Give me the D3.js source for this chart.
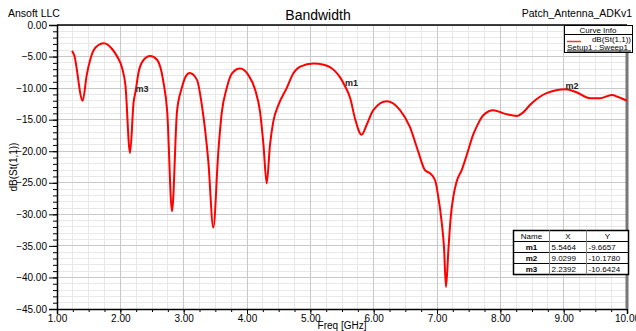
<!DOCTYPE html>
<html>
<head>
<meta charset="utf-8">
<script src="https://cdn.jsdelivr.net/npm/d3@7"></script>
<style>
  body { margin: 0; background: #fff; }
  svg { font-family: "Liberation Sans", Arial, sans-serif; }
</style>
</head>
<body>
<svg id="chart" width="636" height="331"></svg>
<script>
var freq = [1.237, 1.27, 1.405, 1.47, 1.53, 1.605, 1.74, 1.87, 1.95, 2.03, 2.08, 2.153, 2.21, 2.239,
  2.29, 2.37, 2.47, 2.58, 2.68, 2.74, 2.816, 2.895, 2.97, 3.03, 3.095, 3.21, 3.29, 3.39, 3.468,
  3.547, 3.60, 3.68, 3.76, 3.89, 4.02, 4.13, 4.205, 4.26, 4.311, 4.363, 4.415, 4.495, 4.627,
  4.73, 4.84, 5.05, 5.21, 5.39, 5.47, 5.546, 5.63, 5.705, 5.81, 5.89, 5.995, 6.206, 6.416, 6.57,
  6.705, 6.81, 6.89, 6.97, 7.02, 7.07, 7.11, 7.142, 7.18, 7.217, 7.258, 7.31, 7.39, 7.47, 7.57,
  7.627, 7.73, 7.89, 8.05, 8.26, 8.34, 8.495, 8.73, 9.03, 9.21, 9.42, 9.57, 9.76, 9.86, 10.0];
var s11 = [-4.1, -4.75, -12.0, -7.9, -5.3, -3.6, -2.9, -3.8, -5.0, -6.9, -9.5, -20.3, -12.2, -10.6,
  -7.4, -5.5, -4.9, -5.5, -9.0, -13.7, -29.5, -13.7, -10.0, -8.2, -7.6, -8.7, -12.9, -21.7, -32.1,
  -20.1, -14.0, -10.0, -7.7, -6.9, -7.9, -10.3, -13.7, -19.0, -25.1, -19.0, -15.3, -12.7, -10.0,
  -7.7, -6.6, -6.1, -6.3, -7.3, -8.3, -9.67, -11.6, -14.8, -17.4, -15.8, -13.5, -12.1, -13.5, -16.1,
  -20.1, -23.0, -23.5, -24.6, -27.2, -30.9, -35.1, -41.5, -35.6, -30.4, -27.2, -24.8, -23.0, -20.6, -17.4,
  -16.1, -14.3, -13.5, -14.0, -14.4, -14.0, -12.4, -10.8, -10.18, -10.7, -11.6, -11.6, -11.1, -11.4, -12.0];

var markerNames = ['m1', 'm2', 'm3'];
var markerX = [5.5464, 9.0299, 2.2392];
var markerY = [-9.6657, -10.1780, -10.6424];

var xTicks = [1, 2, 3, 4, 5, 6, 7, 8, 9, 10];
var yTicks = [0, -5, -10, -15, -20, -25, -30, -35, -40, -45];

var svg = d3.select('#chart');
var pLeft = 57, pRight = 627, pTop = 25, pBottom = 309;

var x = d3.scaleLinear().domain([1, 10]).range([pLeft, pRight]);
var y = d3.scaleLinear().domain([-45, 0]).range([pBottom, pTop]);

// grid
var grid = svg.append('g').attr('shape-rendering', 'crispEdges');
grid.selectAll('.vminor')
  .data(d3.range(1, 10.001, 0.25))
  .enter().append('line')
  .attr('x1', d => x(d)).attr('x2', d => x(d))
  .attr('y1', pTop).attr('y2', pBottom)
  .attr('stroke', '#e8e8e8').attr('stroke-width', 1);
grid.selectAll('.hminor')
  .data(d3.range(-45, 0.001, 1))
  .enter().append('line')
  .attr('x1', pLeft).attr('x2', pRight)
  .attr('y1', d => y(d)).attr('y2', d => y(d))
  .attr('stroke', '#e8e8e8').attr('stroke-width', 1);
grid.selectAll('.vmajor')
  .data(xTicks)
  .enter().append('line')
  .attr('x1', d => x(d)).attr('x2', d => x(d))
  .attr('y1', pTop).attr('y2', pBottom)
  .attr('stroke', '#c8c8c8').attr('stroke-width', 1);
grid.selectAll('.hmajor')
  .data(yTicks)
  .enter().append('line')
  .attr('x1', pLeft).attr('x2', pRight)
  .attr('y1', d => y(d)).attr('y2', d => y(d))
  .attr('stroke', '#c8c8c8').attr('stroke-width', 1);

// axes
var xAxis = d3.axisBottom(x).tickValues(xTicks).tickFormat(d3.format('.2f')).tickSize(5);
var xMinor = d3.axisBottom(x).tickValues(d3.range(1, 10.001, 0.25)).tickFormat('').tickSize(3);
var yAxis = d3.axisLeft(y).tickValues(yTicks).tickFormat(d3.format('.2f')).tickSize(8);
var yMinor = d3.axisLeft(y).tickValues(d3.range(-45, 0.001, 1)).tickFormat('').tickSize(4);

svg.append('g').attr('transform', 'translate(0,' + pBottom + ')').call(xMinor)
  .call(g => g.select('.domain').remove());
var gx = svg.append('g').attr('transform', 'translate(0,' + pBottom + ')').call(xAxis);
gx.selectAll('text').attr('font-size', 10).attr('fill', '#000').attr('y', 6);
gx.select('.domain').attr('stroke-width', 1.5);

svg.append('g').attr('transform', 'translate(' + pLeft + ',0)').call(yMinor)
  .call(g => g.select('.domain').remove());
var gy = svg.append('g').attr('transform', 'translate(' + pLeft + ',0)').call(yAxis);
gy.selectAll('text').attr('font-size', 10).attr('fill', '#000').attr('x', -10);
gy.select('.domain').attr('stroke-width', 1.5);
svg.selectAll('.tick line').attr('stroke', '#000');

// top and right frame
svg.append('line').attr('x1', pLeft).attr('x2', pRight).attr('y1', pTop).attr('y2', pTop)
  .attr('stroke', '#000').attr('stroke-width', 1.5);
svg.append('line').attr('x1', pRight).attr('x2', pRight).attr('y1', pTop).attr('y2', pBottom)
  .attr('stroke', '#777').attr('stroke-width', 3);

// curve
var pts = freq.map((f, i) => [f, s11[i]]);
var line = d3.line().x(d => x(d[0])).y(d => y(d[1])).curve(d3.curveMonotoneX);
svg.append('path').datum(pts)
  .attr('d', line)
  .attr('fill', 'none')
  .attr('stroke', '#ff0000')
  .attr('stroke-width', 2);

// marker labels
svg.selectAll('.mlabel')
  .data(markerNames)
  .enter().append('text')
  .attr('x', (d, i) => x(markerX[i]))
  .attr('y', (d, i) => y(markerY[i]))
  .attr('font-size', 9).attr('font-weight', 'bold').attr('fill', '#222')
  .text(d => d);

// titles
svg.append('text').attr('x', 318).attr('y', 20).attr('text-anchor', 'middle')
  .attr('font-size', 14).text('Bandwidth');
svg.append('text').attr('x', 8).attr('y', 17).attr('font-size', 10.5).text('Ansoft LLC');
svg.append('text').attr('x', 632).attr('y', 17).attr('text-anchor', 'end')
  .attr('font-size', 10.5).text('Patch_Antenna_ADKv1');
svg.append('text').attr('x', 342).attr('y', 329).attr('text-anchor', 'middle')
  .attr('font-size', 10).text('Freq [GHz]');
svg.append('text').attr('transform', 'translate(17,167) rotate(-90)').attr('text-anchor', 'middle')
  .attr('font-size', 10).text('dB(St(1,1))');

// curve info legend
var lg = svg.append('g');
lg.append('rect').attr('x', 564.5).attr('y', 25.5).attr('width', 68).attr('height', 27)
  .attr('fill', '#fff').attr('stroke', '#000').attr('stroke-width', 1);
lg.append('line').attr('x1', 564.5).attr('x2', 632.5).attr('y1', 34.5).attr('y2', 34.5)
  .attr('stroke', '#000');
lg.append('text').attr('x', 598).attr('y', 32.5).attr('text-anchor', 'middle')
  .attr('font-size', 8).text('Curve Info');
lg.append('line').attr('x1', 567).attr('x2', 581).attr('y1', 41.5).attr('y2', 41.5)
  .attr('stroke', '#ff3333').attr('stroke-width', 1.5);
lg.append('text').attr('x', 631).attr('y', 42).attr('text-anchor', 'end')
  .attr('font-size', 8).text('dB(St(1,1))');
lg.append('text').attr('x', 567).attr('y', 50).attr('font-size', 8).text('Setup1 : Sweep1');
lg.append('line').attr('x1', 567).attr('x2', 631).attr('y1', 51).attr('y2', 51)
  .attr('stroke', '#000').attr('stroke-width', 1);

// marker table
var cols = [513.5, 549.5, 586.5, 628.5];
var rowH = 11, tTop = 230.5;
var tbl = svg.append('g');
tbl.append('rect').attr('x', cols[0]).attr('y', tTop).attr('width', cols[3] - cols[0]).attr('height', rowH * 4)
  .attr('fill', '#fff').attr('stroke', '#000').attr('stroke-width', 1.5);
[1, 2, 3].forEach(function(r) {
  tbl.append('line').attr('x1', cols[0]).attr('x2', cols[3])
    .attr('y1', tTop + r * rowH).attr('y2', tTop + r * rowH)
    .attr('stroke', '#000').attr('stroke-width', 1);
});
[1, 2].forEach(function(c) {
  tbl.append('line').attr('x1', cols[c]).attr('x2', cols[c])
    .attr('y1', tTop).attr('y2', tTop + rowH * 4)
    .attr('stroke', '#888').attr('stroke-width', 1);
});
var header = ['Name', 'X', 'Y'];
header.forEach(function(h, c) {
  tbl.append('text').attr('x', (cols[c] + cols[c + 1]) / 2).attr('y', tTop + 8.5)
    .attr('text-anchor', 'middle').attr('font-size', 8).text(h);
});
markerNames.forEach(function(m, i) {
  var yy = tTop + (i + 1) * rowH + 8.5;
  tbl.append('text').attr('x', (cols[0] + cols[1]) / 2).attr('y', yy)
    .attr('text-anchor', 'middle').attr('font-size', 8).attr('font-weight', 'bold').text(m);
  tbl.append('text').attr('x', cols[1] + 2).attr('y', yy)
    .attr('font-size', 8).text(markerX[i].toFixed(4));
  tbl.append('text').attr('x', cols[2] + 2).attr('y', yy)
    .attr('font-size', 8).text(markerY[i].toFixed(4));
});
</script>
</body>
</html>
